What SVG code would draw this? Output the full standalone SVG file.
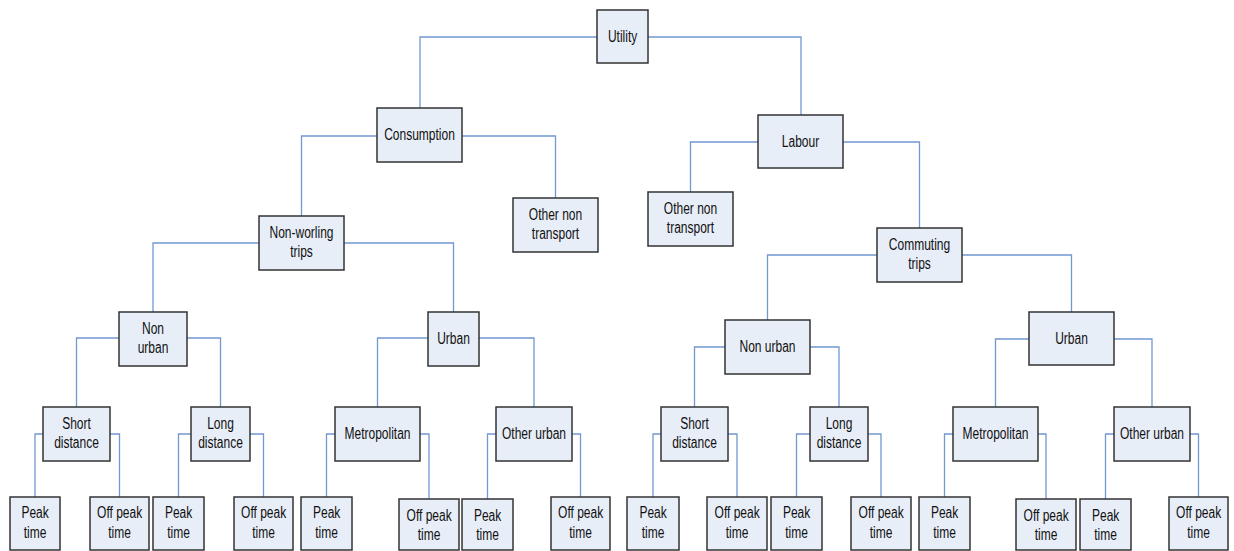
<svg xmlns="http://www.w3.org/2000/svg" width="1234" height="551" viewBox="0 0 1234 551">
<style>
.n rect{fill:#e8eef8;stroke:#333;stroke-width:1.5}
.n text{font-family:"Liberation Sans",Arial,sans-serif;font-size:16px;fill:#111;text-anchor:middle;transform-box:fill-box;transform-origin:center;transform:scaleX(0.75)}
#connectors path{fill:none;stroke:#7298d2;stroke-width:1.3}
</style>
<rect width="1234" height="551" fill="#fff"/>
<g id="connectors">
<path d="M597,37 H420 V108 M648,37 H801 V115"/>
<path d="M377,136 H301.5 V216 M462,136 H555.5 V198"/>
<path d="M758,142 H690.5 V192 M843,142 H919.5 V228"/>
<path d="M259,243 H153 V312 M344,243 H453.5 V312"/>
<path d="M877,255 H767.5 V320 M962,255 H1071.5 V312"/>
<path d="M119,338 H76.5 V407 M187,338 H220.5 V407"/>
<path d="M428,338 H377.5 V407 M479,338 H534 V407"/>
<path d="M725,347 H694.5 V407 M810,347 H839 V407"/>
<path d="M1029,339 H995.5 V407 M1114,339 H1152 V407"/>
<path d="M43,434 H35 V497 M110,434 H119.5 V497"/>
<path d="M191,434 H178.5 V497 M250,434 H263.5 V497"/>
<path d="M335,434 H326.5 V497 M420,434 H429 V499"/>
<path d="M496,434 H487.5 V499 M572,434 H580.5 V497"/>
<path d="M661,434 H653 V497 M728,434 H737 V497"/>
<path d="M810,434 H796.5 V497 M868,434 H881 V497"/>
<path d="M953,434 H944.5 V497 M1038,434 H1046 V499"/>
<path d="M1114,434 H1105.5 V499 M1190,434 H1198.5 V497"/>
</g>
<g id="utility" class="n"><rect x="597" y="10" width="51" height="53"/><text x="622.5" y="42.5">Utility</text></g>
<g id="consumption" class="n"><rect x="377" y="108" width="85" height="54"/><text x="419.5" y="140.5">Consumption</text></g>
<g id="labour" class="n"><rect x="758" y="115" width="85" height="53"/><text x="800.5" y="147">Labour</text></g>
<g id="other-non-transport-c" class="n"><rect x="513" y="198" width="85" height="54"/><text x="555.5" y="220">Other non</text><text x="555.5" y="239">transport</text></g>
<g id="other-non-transport-l" class="n"><rect x="648" y="192" width="85" height="54"/><text x="690.5" y="214.5">Other non</text><text x="690.5" y="233">transport</text></g>
<g id="non-worling-trips" class="n"><rect x="259" y="216" width="85" height="54"/><text x="301.5" y="238.5">Non-worling</text><text x="301.5" y="257">trips</text></g>
<g id="commuting-trips" class="n"><rect x="877" y="228" width="85" height="54"/><text x="919.5" y="250.5">Commuting</text><text x="919.5" y="269">trips</text></g>
<g id="non-urban-l" class="n"><rect x="119" y="312" width="68" height="54"/><text x="153" y="334">Non</text><text x="153" y="353">urban</text></g>
<g id="urban-l" class="n"><rect x="428" y="312" width="51" height="54"/><text x="453.5" y="344.5">Urban</text></g>
<g id="non-urban-r" class="n"><rect x="725" y="320" width="85" height="54"/><text x="767.5" y="352.5">Non urban</text></g>
<g id="urban-r" class="n"><rect x="1029" y="312" width="85" height="53"/><text x="1071.5" y="344">Urban</text></g>
<g id="short-distance-l" class="n"><rect x="43" y="407" width="67" height="54"/><text x="76.5" y="429">Short</text><text x="76.5" y="448">distance</text></g>
<g id="long-distance-l" class="n"><rect x="191" y="407" width="59" height="54"/><text x="220.5" y="429.5">Long</text><text x="220.5" y="448">distance</text></g>
<g id="metropolitan-l" class="n"><rect x="335" y="407" width="85" height="54"/><text x="377.5" y="439.5">Metropolitan</text></g>
<g id="other-urban-l" class="n"><rect x="496" y="407" width="76" height="54"/><text x="534" y="439.5">Other urban</text></g>
<g id="short-distance-r" class="n"><rect x="661" y="407" width="67" height="54"/><text x="694.5" y="429">Short</text><text x="694.5" y="448">distance</text></g>
<g id="long-distance-r" class="n"><rect x="810" y="407" width="58" height="54"/><text x="839" y="429.5">Long</text><text x="839" y="448">distance</text></g>
<g id="metropolitan-r" class="n"><rect x="953" y="407" width="85" height="54"/><text x="995.5" y="439.5">Metropolitan</text></g>
<g id="other-urban-r" class="n"><rect x="1114" y="407" width="76" height="54"/><text x="1152" y="439.5">Other urban</text></g>
<g id="peak-l1" class="n"><rect x="10" y="497" width="50" height="53"/><text x="35" y="518.5">Peak</text><text x="35" y="538">time</text></g>
<g id="offpeak-l1" class="n"><rect x="90" y="497" width="59" height="53"/><text x="119.5" y="518.5">Off peak</text><text x="119.5" y="538">time</text></g>
<g id="peak-l2" class="n"><rect x="153" y="497" width="51" height="53"/><text x="178.5" y="518.5">Peak</text><text x="178.5" y="538">time</text></g>
<g id="offpeak-l2" class="n"><rect x="234" y="497" width="59" height="53"/><text x="263.5" y="518.5">Off peak</text><text x="263.5" y="538">time</text></g>
<g id="peak-l3" class="n"><rect x="301" y="497" width="51" height="53"/><text x="326.5" y="518.5">Peak</text><text x="326.5" y="538">time</text></g>
<g id="offpeak-l3" class="n"><rect x="399" y="499" width="60" height="51"/><text x="429" y="521">Off peak</text><text x="429" y="540">time</text></g>
<g id="peak-l4" class="n"><rect x="462" y="499" width="51" height="51"/><text x="487.5" y="521">Peak</text><text x="487.5" y="540">time</text></g>
<g id="offpeak-l4" class="n"><rect x="551" y="497" width="59" height="53"/><text x="580.5" y="518.5">Off peak</text><text x="580.5" y="538">time</text></g>
<g id="peak-r1" class="n"><rect x="627" y="497" width="52" height="53"/><text x="653" y="518.5">Peak</text><text x="653" y="538">time</text></g>
<g id="offpeak-r1" class="n"><rect x="707" y="497" width="60" height="53"/><text x="737" y="518.5">Off peak</text><text x="737" y="538">time</text></g>
<g id="peak-r2" class="n"><rect x="771" y="497" width="51" height="53"/><text x="796.5" y="518.5">Peak</text><text x="796.5" y="538">time</text></g>
<g id="offpeak-r2" class="n"><rect x="851" y="497" width="60" height="53"/><text x="881" y="518.5">Off peak</text><text x="881" y="538">time</text></g>
<g id="peak-r3" class="n"><rect x="919" y="497" width="51" height="53"/><text x="944.5" y="518.5">Peak</text><text x="944.5" y="538">time</text></g>
<g id="offpeak-r3" class="n"><rect x="1016" y="499" width="60" height="51"/><text x="1046" y="521">Off peak</text><text x="1046" y="540">time</text></g>
<g id="peak-r4" class="n"><rect x="1080" y="499" width="51" height="51"/><text x="1105.5" y="521">Peak</text><text x="1105.5" y="540">time</text></g>
<g id="offpeak-r4" class="n"><rect x="1169" y="497" width="59" height="53"/><text x="1198.5" y="518.5">Off peak</text><text x="1198.5" y="538">time</text></g>
</svg>
